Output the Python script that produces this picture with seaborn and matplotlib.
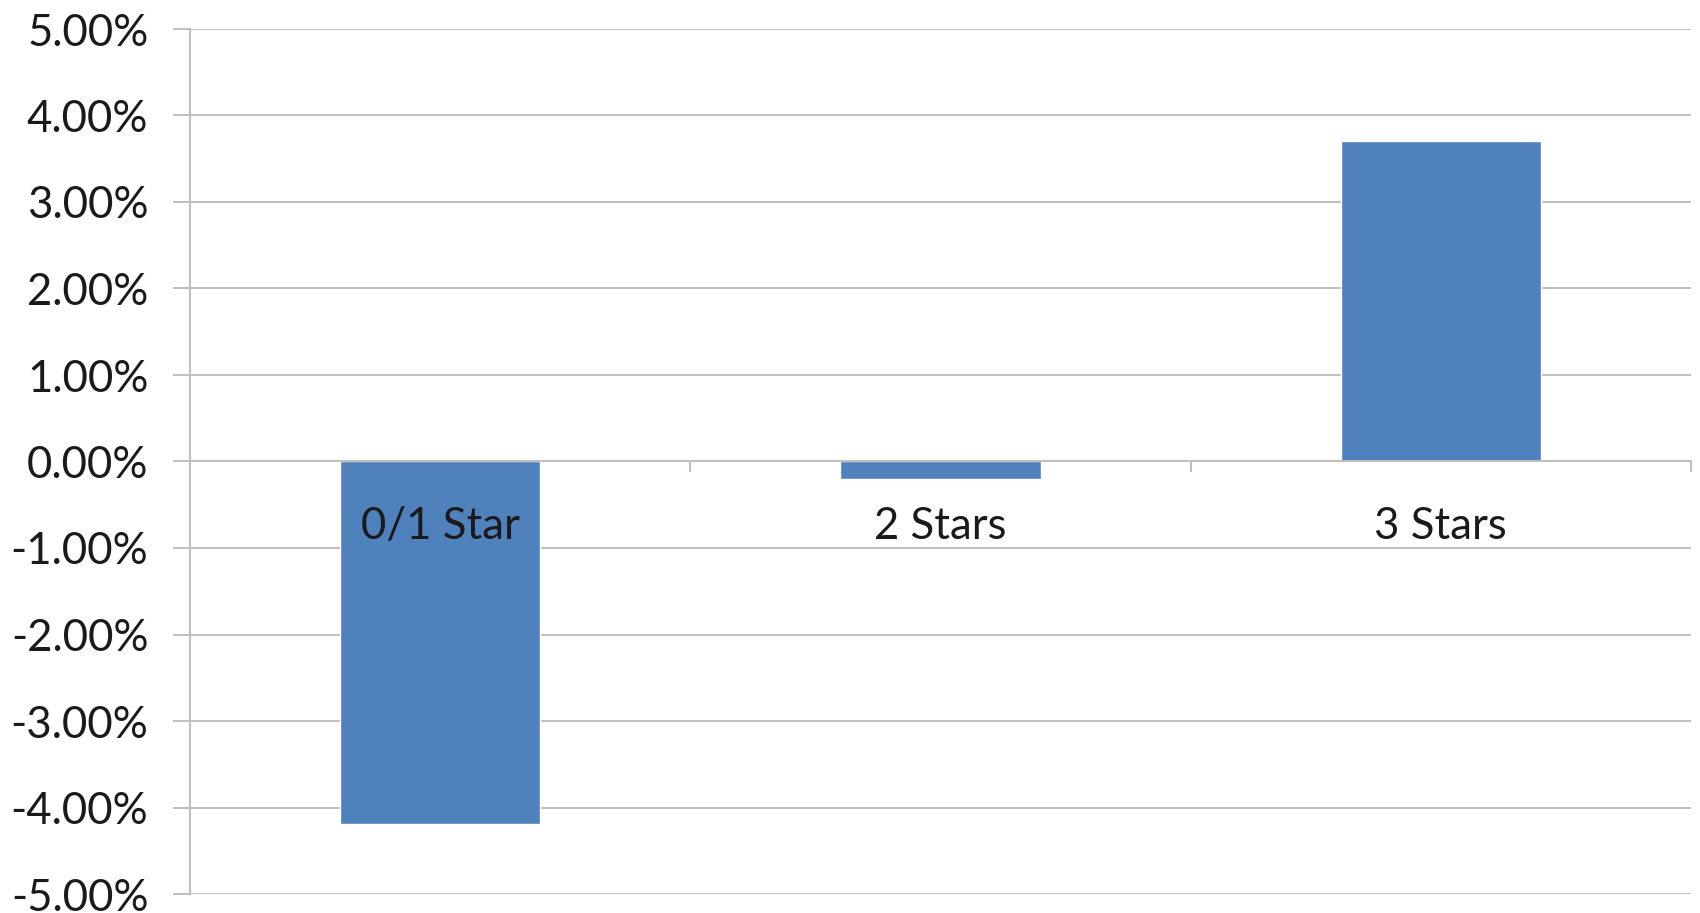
import matplotlib
matplotlib.use("Agg")
import matplotlib.pyplot as plt
import seaborn as sns
import numpy as np
from matplotlib.ticker import FixedLocator, FuncFormatter

categories = ["0/1 Star", "2 Stars", "3 Stars"]
values = [-4.19, -0.20, 3.70]
yticks = [-5, -4, -3, -2, -1, 0, 1, 2, 3, 4, 5]

sns.set_theme(style="white")
plt.rcParams['font.family'] = ['Lato', 'DejaVu Sans']

fig = plt.figure(figsize=(17, 9.13), dpi=100)
ax = fig.add_axes([190/1700, 1-894/913, (1691-190)/1700, (894-29)/913])

sns.barplot(x=categories, y=values, color="#4F81BD", width=0.4, ax=ax,
            saturation=1, zorder=2)

ax.set_xlim(-0.5, 2.5)
ax.set_ylim(-5, 5)
ax.set_yticks(yticks)
ax.yaxis.set_major_formatter(FuncFormatter(lambda v, p: f"{v:.2f}%"))
ax.grid(axis="y", color="#BFBFBF", linewidth=1.4)
ax.grid(axis="x", visible=False)
ax.yaxis.set_zorder(0.5)
ax.xaxis.set_zorder(3)

ax.tick_params(axis="y", which="major", left=True, length=12, width=1.4,
               color="#BFBFBF", labelsize=31.5, labelcolor="#1a1a1a", pad=18)

ax.set_xticks(range(len(categories)))
ax.set_xticklabels(categories)
ax.xaxis.set_minor_locator(FixedLocator([-0.5, 0.5, 1.5, 2.5]))
ax.tick_params(axis="x", which="major", bottom=True, length=0, labelsize=31.5,
               labelcolor="#1a1a1a", pad=32)
ax.tick_params(axis="x", which="minor", bottom=True, length=8, width=1.4,
               color="#BFBFBF", direction="out")

for s in ["top", "right"]:
    ax.spines[s].set_visible(False)
ax.spines["bottom"].set_position(("data", 0))
ax.spines["bottom"].set_color("#BFBFBF")
ax.spines["bottom"].set_linewidth(1.4)
ax.spines["left"].set_color("#BFBFBF")
ax.spines["left"].set_linewidth(1.4)
ax.set_xlabel("")
ax.set_ylabel("")

fig.savefig("out.png", dpi=100, facecolor="white")
